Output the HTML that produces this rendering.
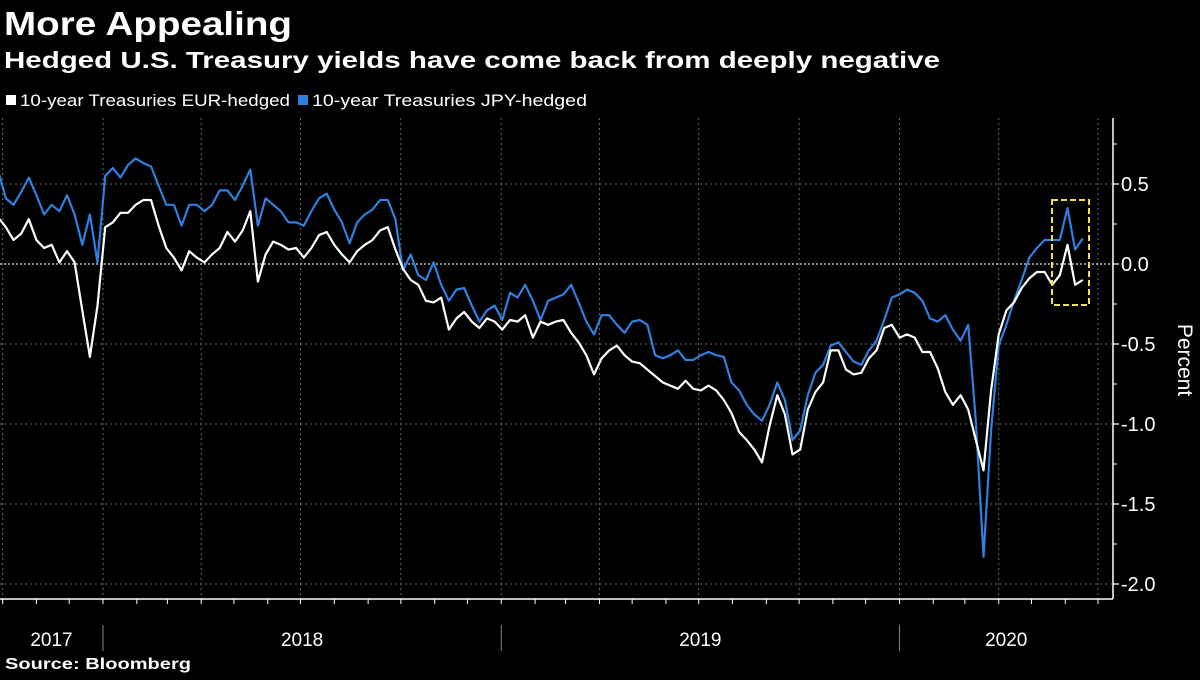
<!DOCTYPE html>
<html><head><meta charset="utf-8">
<style>
html,body{margin:0;padding:0;background:#000;}
body{width:1200px;height:675px;overflow:hidden;font-family:"Liberation Sans",sans-serif;color:#fff;}
svg text{font-family:"Liberation Sans",sans-serif;}
</style></head>
<body>
<svg id="chart" width="1200" height="675" xmlns="http://www.w3.org/2000/svg">
<rect x="0" y="0" width="1200" height="675" fill="#000"/>
<text x="4" y="35" font-size="33" font-weight="bold" fill="#fff" textLength="288" lengthAdjust="spacingAndGlyphs">More Appealing</text>
<text x="4" y="68" font-size="23" font-weight="bold" fill="#fff" textLength="936" lengthAdjust="spacingAndGlyphs">Hedged U.S. Treasury yields have come back from deeply negative</text>
<g>
<rect x="6" y="95" width="10" height="10" fill="#fff"/>
<text x="20" y="106" font-size="16.5" fill="#fff" textLength="270" lengthAdjust="spacingAndGlyphs">10-year Treasuries EUR-hedged</text>
<rect x="298" y="95" width="10" height="10" fill="#2f80e0"/>
<text x="312" y="106" font-size="16.5" fill="#fff" textLength="275" lengthAdjust="spacingAndGlyphs">10-year Treasuries JPY-hedged</text>
</g>
<g id="grid"></g>
<g id="axes"></g>
<g id="series"></g>
<rect x="1052" y="200" width="37" height="105" fill="none" stroke="#f0e442" stroke-width="2" stroke-dasharray="6,3"/>
<text transform="translate(1178,360) rotate(90)" text-anchor="middle" font-size="21" fill="#fff">Percent</text>
<text x="5" y="669" font-size="16" font-weight="bold" fill="#fff" textLength="186" lengthAdjust="spacingAndGlyphs">Source: Bloomberg</text>
</svg>
<script>
const startDate = "2017-09-27";
const stepDays = 7;
const jpyHedged = [0.58,0.41,0.37,0.45,0.54,0.43,0.31,0.37,0.33,0.43,0.31,0.12,0.31,0.01,0.55,0.60,0.54,0.62,0.66,0.63,0.61,0.49,0.37,0.37,0.24,0.37,0.37,0.33,0.37,0.46,0.46,0.40,0.49,0.59,0.24,0.41,0.37,0.33,0.26,0.26,0.24,0.33,0.41,0.44,0.34,0.26,0.13,0.26,0.31,0.34,0.40,0.40,0.28,-0.04,0.06,-0.07,-0.10,0.01,-0.13,-0.23,-0.16,-0.15,-0.26,-0.36,-0.29,-0.26,-0.35,-0.18,-0.21,-0.13,-0.23,-0.35,-0.23,-0.21,-0.19,-0.13,-0.24,-0.36,-0.44,-0.32,-0.32,-0.38,-0.43,-0.36,-0.35,-0.38,-0.57,-0.59,-0.57,-0.54,-0.60,-0.60,-0.57,-0.55,-0.57,-0.58,-0.74,-0.79,-0.88,-0.94,-0.98,-0.88,-0.74,-0.85,-1.10,-1.04,-0.82,-0.68,-0.63,-0.51,-0.49,-0.55,-0.61,-0.63,-0.54,-0.48,-0.35,-0.21,-0.19,-0.16,-0.18,-0.23,-0.34,-0.36,-0.32,-0.41,-0.48,-0.38,-0.98,-1.83,-1.04,-0.51,-0.38,-0.23,-0.10,0.04,0.10,0.15,0.15,0.15,0.35,0.09,0.16];
const eurHedged = [0.29,0.23,0.15,0.19,0.28,0.15,0.10,0.12,0.01,0.08,0.01,-0.29,-0.58,-0.26,0.23,0.26,0.32,0.32,0.37,0.40,0.40,0.24,0.10,0.04,-0.04,0.08,0.04,0.01,0.06,0.10,0.20,0.14,0.21,0.33,-0.11,0.06,0.14,0.12,0.09,0.10,0.04,0.10,0.18,0.20,0.12,0.06,0.01,0.08,0.12,0.15,0.21,0.23,0.09,-0.03,-0.10,-0.13,-0.23,-0.24,-0.21,-0.41,-0.34,-0.30,-0.36,-0.40,-0.34,-0.36,-0.41,-0.35,-0.36,-0.32,-0.46,-0.36,-0.38,-0.36,-0.35,-0.43,-0.49,-0.57,-0.69,-0.59,-0.54,-0.51,-0.57,-0.61,-0.62,-0.66,-0.70,-0.74,-0.76,-0.78,-0.73,-0.78,-0.79,-0.76,-0.79,-0.85,-0.93,-1.05,-1.10,-1.16,-1.24,-1.01,-0.82,-0.94,-1.19,-1.16,-0.91,-0.80,-0.74,-0.54,-0.54,-0.66,-0.69,-0.68,-0.59,-0.54,-0.40,-0.38,-0.46,-0.44,-0.46,-0.55,-0.55,-0.65,-0.80,-0.88,-0.82,-0.91,-1.10,-1.29,-0.79,-0.44,-0.29,-0.24,-0.15,-0.09,-0.05,-0.05,-0.13,-0.07,0.12,-0.13,-0.10];
const yTicks = [0.5, 0.0, -0.5, -1.0, -1.5, -2.0];
const yTickLabels = ["0.5","0.0","-0.5","-1.0","-1.5","-2.0"];
const yearLabels = ["2017","2018","2019","2020"];

const NS = "http://www.w3.org/2000/svg";
const PLOT_L = 0, PLOT_R = 1113, PLOT_T = 118, PLOT_B = 599;
const x0 = Date.UTC(2018,0,1), X0PX = 103, PX_PER_DAY = 398.5/365.25;
function xScale(ms){ return X0PX + (ms - x0)/86400000*PX_PER_DAY; }
function yScale(v){ return 264 - v*160; }
function mk(tag, attrs, parent){ const e=document.createElementNS(NS,tag); for(const k in attrs) e.setAttribute(k,attrs[k]); parent.appendChild(e); return e; }

const grid = document.getElementById('grid');
const axes = document.getElementById('axes');
const series = document.getElementById('series');
const startMs = Date.parse(startDate+"T00:00:00Z");

for (let y=2017; y<=2020; y++) for (let q=0;q<4;q++){
  const x = xScale(Date.UTC(y,q*3,1));
  if (x<PLOT_L || x>PLOT_R-3) continue;
  const l = mk('line',{x1:x,x2:x,y1:PLOT_T,y2:PLOT_B,stroke:'#6a6a6a','stroke-width':1,'stroke-dasharray':'2,3'},grid);
  
  
}
yTicks.forEach((v,i)=>{
  const y = yScale(v);
  const zero = v===0;
  const l = mk('line',{x1:PLOT_L,x2:PLOT_R,y1:y,y2:y,stroke:zero?'#bbbbbb':'#6a6a6a','stroke-width':zero?1.6:1,'stroke-dasharray':zero?'2,2':'2,3'},grid);
  
  
  const tk = mk('line',{x1:PLOT_R,x2:PLOT_R+6,y1:y,y2:y,stroke:'#fff','stroke-width':1.2},axes);
  
  
  const t = mk('text',{x:PLOT_R+8,y:y+7,'font-size':20,fill:'#fff'},axes);
  t.textContent = yTickLabels[i];
  
  
});
for (let v=0.75; v>-2.1; v-=0.5){
  const y=yScale(v);
  const tk = mk('line',{x1:PLOT_R,x2:PLOT_R+4,y1:y,y2:y,stroke:'#fff','stroke-width':1},axes);
  
  
}
const ra = mk('line',{x1:PLOT_R,x2:PLOT_R,y1:PLOT_T,y2:PLOT_B,stroke:'#fff','stroke-width':1.5},axes);


const ba = mk('line',{x1:PLOT_L,x2:PLOT_R,y1:PLOT_B,y2:PLOT_B,stroke:'#fff','stroke-width':1.5},axes);


for (let y=2017; y<=2020; y++) for (let m=0;m<12;m++){
  const x = xScale(Date.UTC(y,m,1));
  if (x<PLOT_L || x>PLOT_R) continue;
  const tk = mk('line',{x1:x,x2:x,y1:PLOT_B,y2:PLOT_B+5,stroke:'#fff','stroke-width':1},axes);
  
  
}
yearLabels.forEach((lab,i)=>{
  const yr = +lab;
  const xs = Math.max(PLOT_L, xScale(Date.UTC(yr,0,1)));
  const xe = Math.min(PLOT_R, xScale(Date.UTC(yr+1,0,1)));
  if (xScale(Date.UTC(yr,0,1))>=PLOT_L){
    const d = mk('line',{x1:xs,x2:xs,y1:625,y2:651,stroke:'#888','stroke-width':1},axes);
    
    
  }
  const t = mk('text',{x:(xs+xe)/2,y:646,'font-size':19,fill:'#fff','text-anchor':'middle'},axes);
  t.textContent = lab;
  
  
});
function drawLine(vals, color, name){
  const pts = vals.map((v,i)=> xScale(startMs + i*stepDays*86400000).toFixed(1)+','+yScale(v).toFixed(1)).join(' ');
  const p = mk('polyline',{points:pts,fill:'none',stroke:color,'stroke-width':2.2,'stroke-linejoin':'round'},series);
  
  
}
drawLine(jpyHedged,'#2f80e0','line-jpy-hedged');
drawLine(eurHedged,'#ffffff','line-eur-hedged');
</script>
</body></html>
